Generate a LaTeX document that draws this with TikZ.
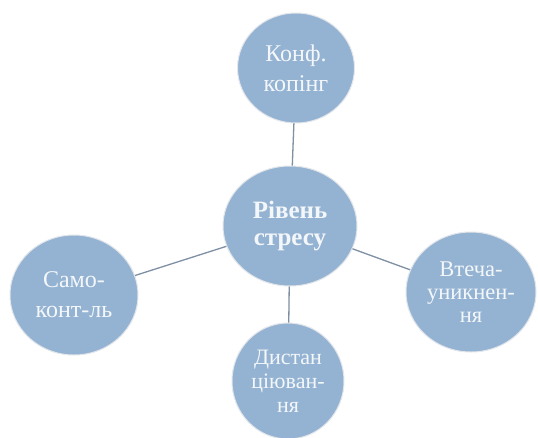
\documentclass[tikz,border=0pt]{standalone}
\usepackage{fontspec}
\setmainfont{Liberation Serif}
\usetikzlibrary{shapes.geometric}
\definecolor{bubble}{HTML}{94B3D2}
\definecolor{rim}{HTML}{E2E6EA}
\definecolor{wire}{HTML}{7F90A4}
\definecolor{txt}{HTML}{F4F7FA}
\tikzset{
  bubblenode/.style={ellipse, fill=bubble, draw=rim, line width=1pt, inner sep=0pt,
    text=txt, align=center, font=\fontsize{24}{30}\selectfont},
  wirestyle/.style={draw=wire, line width=1.3pt}
}
\begin{document}
\begin{tikzpicture}[x=1pt,y=-1pt]
\useasboundingbox (0,0) rectangle (538,437);
\clip (0,0) rectangle (538,437);
\fill[white] (0,0) rectangle (538,437);
\node[bubblenode, minimum width=134pt, minimum height=120pt, font=\bfseries\fontsize{25}{27}\selectfont] (c) at (290,226) {Рівень\\стресу};
\node[bubblenode, minimum width=117pt, minimum height=110pt] (t) at (296,68) {Конф.\\копінг};
\node[bubblenode, minimum width=128pt, minimum height=120pt] (l) at (74,295) {Само-\\конт-ль};
\node[bubblenode, minimum width=130pt, minimum height=120pt, font=\fontsize{22.5}{23}\selectfont] (r) at (471,292) {Втеча-\\уникнен-\\ня};
\node[bubblenode, minimum width=112pt, minimum height=116pt, font=\fontsize{22}{24}\selectfont] (b) at (288,381) {Дистан\\ціюван-\\ня};
\draw[wirestyle] (c) -- (t);
\draw[wirestyle] (c) -- (l);
\draw[wirestyle] (c) -- (r);
\draw[wirestyle] (c) -- (b);
\end{tikzpicture}
\end{document}
